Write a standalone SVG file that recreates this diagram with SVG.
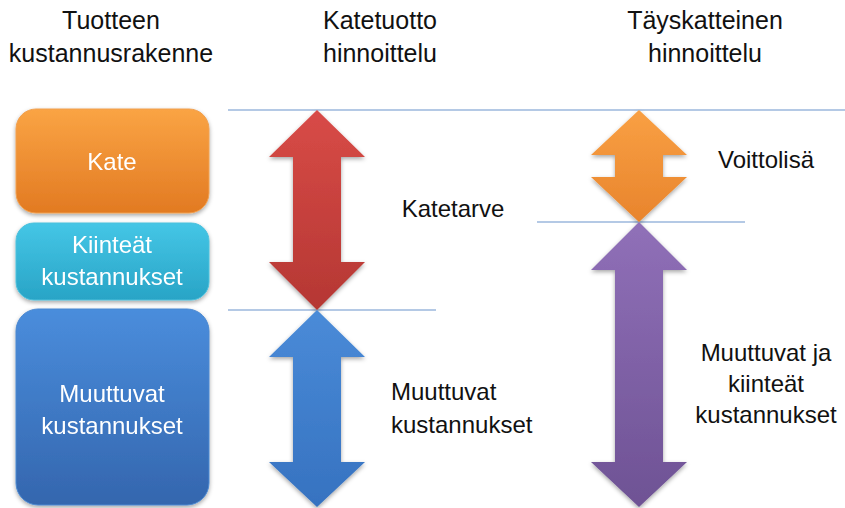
<svg xmlns="http://www.w3.org/2000/svg" width="845" height="508" viewBox="0 0 845 508">
  <style>
    .hdr { font-family: "Liberation Sans", Arial, sans-serif; font-size: 25px; fill: #111; text-anchor: middle; }
    .lbl { font-family: "Liberation Sans", Arial, sans-serif; font-size: 24px; fill: #111; }
    .box-txt { font-family: "Liberation Sans", Arial, sans-serif; font-size: 24px; fill: #fff; text-anchor: middle; }
    .guide { stroke: #6a94cc; stroke-width: 1.2; fill: none; }
  </style>
  <defs>
    <linearGradient id="gOrange" x1="0" y1="0" x2="0" y2="1">
      <stop offset="0" stop-color="#faa444"/>
      <stop offset="1" stop-color="#e27a22"/>
    </linearGradient>
    <linearGradient id="gCyan" x1="0" y1="0" x2="0" y2="1">
      <stop offset="0" stop-color="#45c6e6"/>
      <stop offset="1" stop-color="#28a4c6"/>
    </linearGradient>
    <linearGradient id="gBlue" x1="0" y1="0" x2="0" y2="1">
      <stop offset="0" stop-color="#4a8ddc"/>
      <stop offset="1" stop-color="#3466ae"/>
    </linearGradient>
    <linearGradient id="gRed" x1="0" y1="0" x2="0" y2="1">
      <stop offset="0" stop-color="#d84b47"/>
      <stop offset="1" stop-color="#b53733"/>
    </linearGradient>
    <linearGradient id="gArrowBlue" x1="0" y1="0" x2="0" y2="1">
      <stop offset="0" stop-color="#4a8bd8"/>
      <stop offset="1" stop-color="#3672c0"/>
    </linearGradient>
    <linearGradient id="gArrowOrange" x1="0" y1="0" x2="0" y2="1">
      <stop offset="0" stop-color="#f9a044"/>
      <stop offset="1" stop-color="#e8842c"/>
    </linearGradient>
    <linearGradient id="gPurple" x1="0" y1="0" x2="0" y2="1">
      <stop offset="0" stop-color="#9070b8"/>
      <stop offset="1" stop-color="#6e5294"/>
    </linearGradient>
    <filter id="shadow" x="-10%" y="-10%" width="120%" height="125%">
      <feDropShadow dx="0" dy="2" stdDeviation="2" flood-color="#000" flood-opacity="0.35"/>
    </filter>
  </defs>

  <!-- column headings -->
  <g id="heading-structure">
    <text class="hdr" x="111" y="29">Tuotteen</text>
    <text class="hdr" x="111" y="62">kustannusrakenne</text>
  </g>
  <g id="heading-margin">
    <text class="hdr" x="380" y="29">Katetuotto</text>
    <text class="hdr" x="380" y="62">hinnoittelu</text>
  </g>
  <g id="heading-fullcost">
    <text class="hdr" x="705" y="29">Täyskatteinen</text>
    <text class="hdr" x="705" y="62">hinnoittelu</text>
  </g>

  <!-- guide lines between levels -->
  <g id="connectors">
    <line class="guide" x1="228" y1="110" x2="845" y2="110"/>
    <line class="guide" x1="228" y1="310" x2="436" y2="310"/>
    <line class="guide" x1="537" y1="222" x2="745" y2="222"/>
  </g>

  <!-- cost structure blocks -->
  <g id="box-kate" filter="url(#shadow)">
    <rect x="16" y="109" width="193" height="104" rx="20" fill="url(#gOrange)" stroke="#f0a050" stroke-width="1"/>
    <text class="box-txt" x="112" y="170">Kate</text>
  </g>
  <g id="box-fixed" filter="url(#shadow)">
    <rect x="16" y="223" width="193" height="77" rx="18" fill="url(#gCyan)" stroke="#4cc0dc" stroke-width="1"/>
    <text class="box-txt" x="112" y="253">Kiinteät</text>
    <text class="box-txt" x="112" y="285">kustannukset</text>
  </g>
  <g id="box-variable" filter="url(#shadow)">
    <rect x="16" y="309" width="193" height="196" rx="22" fill="url(#gBlue)" stroke="#4a88d0" stroke-width="1"/>
    <text class="box-txt" x="112" y="402">Muuttuvat</text>
    <text class="box-txt" x="112" y="434">kustannukset</text>
  </g>

  <!-- double-headed arrows -->
  <g id="arrow-katetarve" filter="url(#shadow)">
    <path d="M317,110 L365,157 L341,157 L341,262 L365,262 L317,310 L269,262 L293,262 L293,157 L269,157 Z" fill="url(#gRed)"/>
  </g>
  <g id="arrow-variable" filter="url(#shadow)">
    <path d="M317,310 L365,357 L341,357 L341,462 L365,462 L317,507 L269,462 L293,462 L293,357 L269,357 Z" fill="url(#gArrowBlue)"/>
  </g>
  <g id="arrow-voittolisa" filter="url(#shadow)">
    <path d="M639,110 L687,155 L663,155 L663,177 L687,177 L639,222 L591,177 L615,177 L615,155 L591,155 Z" fill="url(#gArrowOrange)"/>
  </g>
  <g id="arrow-allcosts" filter="url(#shadow)">
    <path d="M639,222 L687,270 L663,270 L663,462 L687,462 L639,507 L591,462 L615,462 L615,270 L591,270 Z" fill="url(#gPurple)"/>
  </g>

  <!-- arrow labels -->
  <g id="label-katetarve">
    <text class="lbl" x="453" y="217" text-anchor="middle">Katetarve</text>
  </g>
  <g id="label-variable">
    <text class="lbl" x="391" y="400">Muuttuvat</text>
    <text class="lbl" x="391" y="433">kustannukset</text>
  </g>
  <g id="label-voittolisa">
    <text class="lbl" x="766" y="168" text-anchor="middle">Voittolisä</text>
  </g>
  <g id="label-allcosts">
    <text class="lbl" x="766" y="361" text-anchor="middle">Muuttuvat ja</text>
    <text class="lbl" x="766" y="392" text-anchor="middle">kiinteät</text>
    <text class="lbl" x="766" y="423" text-anchor="middle">kustannukset</text>
  </g>
</svg>
